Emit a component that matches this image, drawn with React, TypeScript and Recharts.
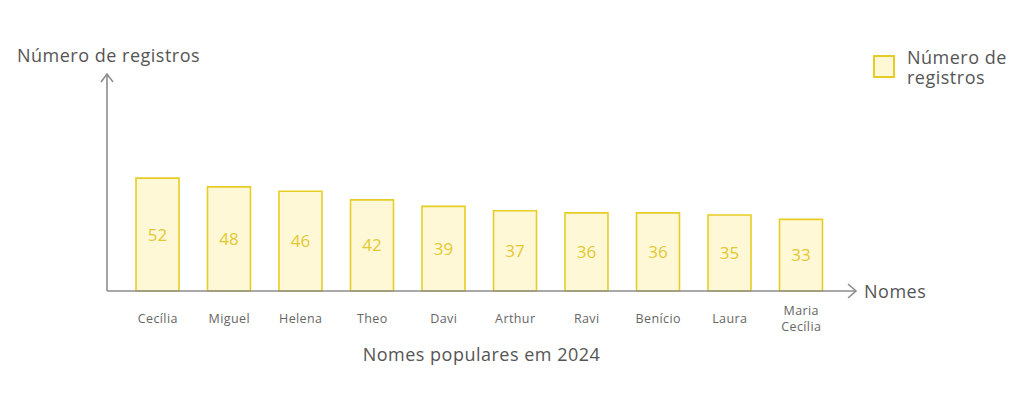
import React from 'react';
import * as R from 'recharts';
import { BarChart, Bar, XAxis, YAxis, LabelList, Legend } from 'recharts';

const names = ['Cecília', 'Miguel', 'Helena', 'Theo', 'Davi', 'Arthur', 'Ravi', 'Benício', 'Laura', 'Maria Cecília'];
const counts = [52, 48, 46, 42, 39, 37, 36, 36, 35, 33];
const seriesName = 'Número de registros';
const yTitle = 'Número de registros';
const xTitle = 'Nomes';
const chartTitle = 'Nomes populares em 2024';

const data = names.map((n, i) => ({ name: n, value: counts[i] }));

const FONT = '"Open Sans", "Noto Sans", sans-serif';
const AXIS = '#8c8c8c';
const FILL = '#FFF8D6';
const STROKE = '#E6CD25';
const LABEL = '#E3C832';

const usePlotArea: any = (R as any).usePlotArea;

function Decorations() {
  const area = usePlotArea ? usePlotArea() : null;
  if (!area) return null;
  const { x, y, width, height } = area;
  const bottom = y + height;
  const right = x + width;
  return (
    <g>
      <g stroke={AXIS} strokeWidth={1.6} fill="none">
        <polyline points={`${x - 6},${y + 8} ${x},${y} ${x + 6},${y + 8}`} />
        <polyline points={`${right - 8},${bottom - 7} ${right},${bottom} ${right - 8},${bottom + 7}`} />
      </g>
      <text x={9} y={47} fill="#555" fontSize={18} letterSpacing={0.5} fontFamily={FONT} dominantBaseline="central">
        {yTitle}
      </text>
      <text x={right + 8} y={bottom} fill="#555" fontSize={18} letterSpacing={0.5} fontFamily={FONT} dominantBaseline="central">
        {xTitle}
      </text>
      <text x={x + width / 2} y={bottom + 63} fill="#555" fontSize={18} letterSpacing={0.5} fontFamily={FONT} textAnchor="middle" dominantBaseline="central">
        {chartTitle}
      </text>
    </g>
  );
}

function Tick(props: any) {
  const { x, y, payload } = props;
  const words: string[] = String(payload.value).split(' ');
  const lines = words.length > 1 ? words : [payload.value];
  const lh = 16.5;
  const start = 19 - ((lines.length - 1) * lh) / 2;
  return (
    <text x={x} y={y + start} textAnchor="middle" dominantBaseline="central" fill="#666" fontSize={12.5} letterSpacing={0.4} fontFamily={FONT}>
      {lines.map((l, i) => (
        <tspan key={i} x={x} dy={i === 0 ? 0 : lh}>
          {l}
        </tspan>
      ))}
    </text>
  );
}

function LegendContent(props: any) {
  const p = props.payload && props.payload[0];
  const label = p ? p.value : seriesName;
  return (
    <div style={{ display: 'flex', alignItems: 'flex-start', fontFamily: FONT }}>
      <div style={{ width: 18, height: 19, background: FILL, border: `2px solid ${STROKE}`, marginTop: 1 }} />
      <div style={{ marginLeft: 12, width: 110, fontSize: 18, letterSpacing: 0.5, lineHeight: '20px', color: '#555', marginTop: -7 }}>{label}</div>
    </div>
  );
}

export default function App() {
  return (
    <div style={{ width: 1008, height: 393, position: 'relative' }}>
      <BarChart width={1008} height={393} data={data} margin={{ top: 66, right: 160, bottom: 70, left: 0 }}>
        <XAxis
          dataKey="name"
          height={40}
          padding={{ left: 15, right: 19 }}
          axisLine={{ stroke: AXIS, strokeWidth: 1.6 }}
          tickLine={false}
          interval={0}
          tick={<Tick />}
        />
        <YAxis width={99} domain={[0, 100]} tick={false} tickLine={false} axisLine={{ stroke: AXIS, strokeWidth: 1.6 }} />
        <Legend
          layout="horizontal"
          verticalAlign="middle"
          align="center"
          content={<LegendContent />}
          wrapperStyle={{ position: 'absolute', top: 46, left: 865, width: 150 }}
        />
        <Bar dataKey="value" name={seriesName} barSize={43} fill={FILL} stroke={STROKE} strokeWidth={1.6} isAnimationActive={false}>
          <LabelList dataKey="value" position="center" fill={LABEL} fontSize={17} fontFamily={FONT} />
        </Bar>
        <Decorations />
      </BarChart>
    </div>
  );
}
